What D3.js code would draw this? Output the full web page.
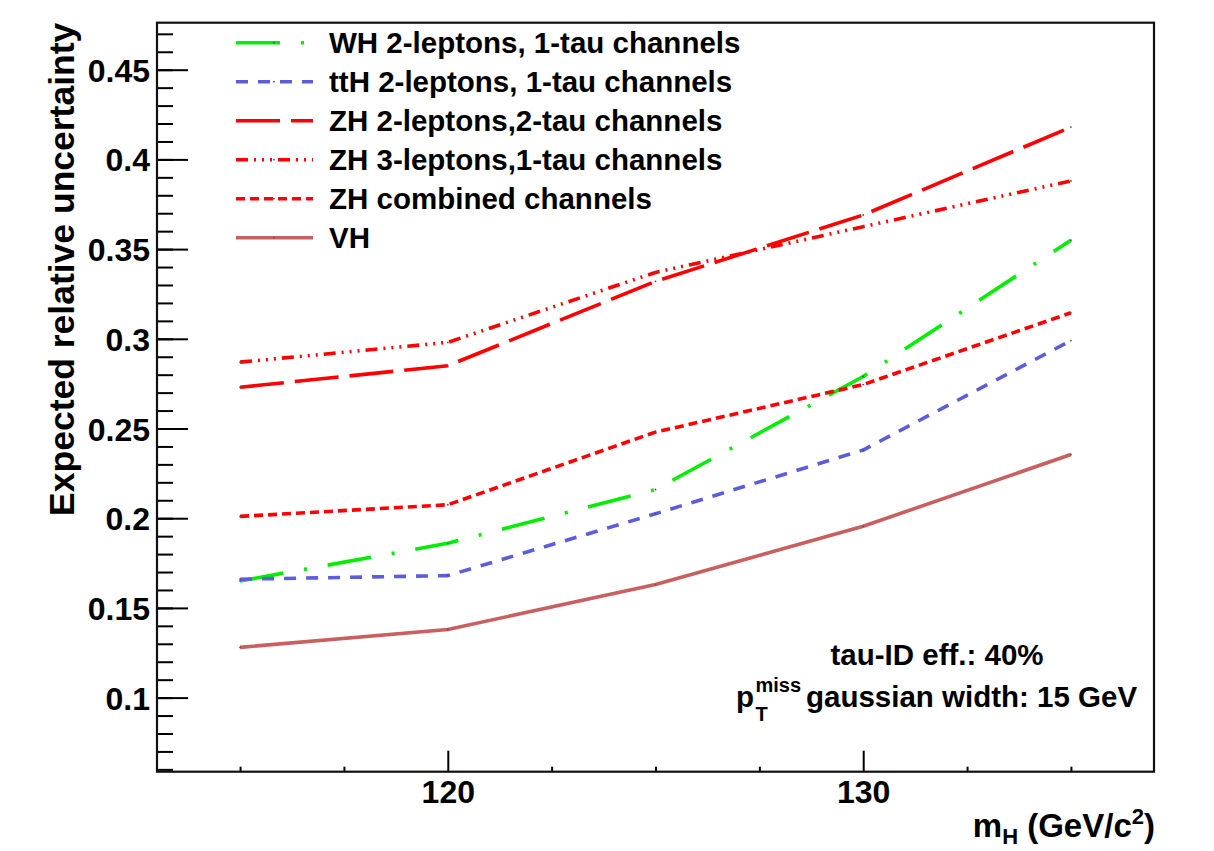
<!DOCTYPE html>
<html>
<head>
<meta charset="utf-8">
<script src="https://cdn.jsdelivr.net/npm/d3@7"></script>
<style>
  html, body { margin: 0; padding: 0; background: #fff; }
  svg { display: block; }
  text { font-family: "Liberation Sans", Arial, Helvetica, sans-serif; font-weight: bold; fill: #000; }
</style>
</head>
<body>
<svg id="chart" width="1214" height="851"></svg>
<script>
// ---- data ----
const masses = [115, 120, 125, 130, 135];
const whValues     = [0.165, 0.186, 0.216, 0.279, 0.355];
const tthValues    = [0.166, 0.168, 0.2025, 0.238, 0.299];
const zh2l2tValues = [0.273, 0.285, 0.332, 0.369, 0.418];
const zh3l1tValues = [0.287, 0.298, 0.337, 0.3625, 0.388];
const zhCombValues = [0.201, 0.2075, 0.248, 0.2745, 0.3145];
const vhValues     = [0.128, 0.138, 0.163, 0.1955, 0.2355];

const seriesNames = [
  "WH 2-leptons, 1-tau channels",
  "ttH 2-leptons, 1-tau channels",
  "ZH 2-leptons,2-tau channels",
  "ZH 3-leptons,1-tau channels",
  "ZH combined channels",
  "VH"
];
const yMajorTicks = [0.1, 0.15, 0.2, 0.25, 0.3, 0.35, 0.4, 0.45];
const yTickLabels = ["0.1", "0.15", "0.2", "0.25", "0.3", "0.35", "0.4", "0.45"];
const xMajorTicks = [120, 130];
const xMinorTicks = [115, 117.5, 122.5, 125, 127.5, 132.5, 135];
const xDomain = [113, 137];
const yDomain = [0.0587, 0.4762];

// ---- styles ----
const seriesValues = [whValues, tthValues, zh2l2tValues, zh3l1tValues, zhCombValues, vhValues];
const styles = [
  { color: "#00ee00", dash: "44,21,3,21" },
  { color: "#5c5cdc", dash: "12,10" },
  { color: "#ff0000", dash: "44,11" },
  { color: "#ff0000", dash: "12,6,2,6,2,6,2,6" },
  { color: "#ff0000", dash: "9,5" },
  { color: "#c86060", dash: null }
];

const svg = d3.select("#chart");
const L = 157, R = 1154, T = 22.7, B = 771.7;
const x = d3.scaleLinear().domain(xDomain).range([L, R]);
const y = d3.scaleLinear().domain(yDomain).range([B, T]);

// minor y ticks every 0.01
const yMinorTicks = d3.range(6, 48).map(d => d / 100).filter(v => v >= yDomain[0] && v <= yDomain[1]);

// y axis minor ticks
svg.append("g").attr("transform", `translate(${L},0)`)
  .call(d3.axisLeft(y).tickValues(yMinorTicks).tickSizeInner(-16).tickSizeOuter(0).tickFormat(""))
  .call(g => g.select(".domain").remove())
  .call(g => g.selectAll("line").attr("stroke", "#000").attr("stroke-width", 2));

// y axis major ticks
svg.append("g").attr("transform", `translate(${L},0)`)
  .call(d3.axisLeft(y).tickValues(yMajorTicks).tickSizeInner(-31).tickSizeOuter(0).tickPadding(7)
        .tickFormat((d, i) => yTickLabels[i]))
  .call(g => g.select(".domain").remove())
  .call(g => g.selectAll("line").attr("stroke", "#000").attr("stroke-width", 2))
  .call(g => g.selectAll("text").attr("font-size", 32).attr("font-family", "Liberation Sans, Arial, sans-serif")
        .attr("font-weight", "bold").attr("fill", "#000").attr("dy", "0.36em"));

// x axis minor ticks
svg.append("g").attr("transform", `translate(0,${B})`)
  .call(d3.axisBottom(x).tickValues(xMinorTicks).tickSizeInner(-5).tickSizeOuter(0).tickFormat(""))
  .call(g => g.select(".domain").remove())
  .call(g => g.selectAll("line").attr("stroke", "#000").attr("stroke-width", 2));

// x axis major ticks
svg.append("g").attr("transform", `translate(0,${B})`)
  .call(d3.axisBottom(x).tickValues(xMajorTicks).tickSizeInner(-21).tickSizeOuter(0).tickPadding(9)
        .tickFormat(d3.format("d")))
  .call(g => g.select(".domain").remove())
  .call(g => g.selectAll("line").attr("stroke", "#000").attr("stroke-width", 2))
  .call(g => g.selectAll("text").attr("font-size", 32).attr("font-family", "Liberation Sans, Arial, sans-serif")
        .attr("font-weight", "bold").attr("fill", "#000").attr("dy", "0.71em"));

// frame
svg.append("rect").attr("x", L).attr("y", T).attr("width", R - L).attr("height", B - T)
  .attr("fill", "none").attr("stroke", "#111").attr("stroke-width", 2.2);

// series lines
const line = d3.line().x(d => x(d[0])).y(d => y(d[1]));
seriesValues.forEach((vals, i) => {
  const pts = masses.map((m, j) => [m, vals[j]]);
  svg.append("path").datum(pts).attr("d", line)
    .attr("fill", "none").attr("stroke", styles[i].color).attr("stroke-width", 3.6)
    .attr("stroke-dasharray", styles[i].dash).attr("stroke-linejoin", "round");
  svg.append("g").selectAll("circle").data(pts).join("circle")
    .attr("cx", d => x(d[0])).attr("cy", d => y(d[1])).attr("r", 0.9).attr("fill", "#555");
});

// legend
const legX0 = 236, legX1 = 313, legTextX = 329, legY0 = 42.7, legDy = 39;
const leg = svg.append("g");
seriesNames.forEach((name, i) => {
  const yy = legY0 + i * legDy;
  leg.append("line").attr("x1", legX0).attr("x2", legX1).attr("y1", yy).attr("y2", yy)
    .attr("stroke", styles[i].color).attr("stroke-width", 3.6).attr("stroke-dasharray", styles[i].dash);
  leg.append("circle").attr("cx", 274).attr("cy", yy).attr("r", 0.9).attr("fill", "#555");
  leg.append("text").attr("x", legTextX).attr("y", yy + 10.5).attr("font-size", 29.5).text(name);
});

// annotations
svg.append("text").attr("x", 937).attr("y", 665).attr("text-anchor", "middle").attr("font-size", 29.5)
  .text("tau-ID eff.: 40%");
const ann2 = svg.append("g");
ann2.append("text").attr("x", 736).attr("y", 707).attr("font-size", 29.5).text("p");
ann2.append("text").attr("x", 755.5).attr("y", 692).attr("font-size", 20).text("miss");
ann2.append("text").attr("x", 755.5).attr("y", 721).attr("font-size", 20).text("T");
ann2.append("text").attr("x", 806).attr("y", 707).attr("font-size", 29.5).text("gaussian width: 15 GeV");

// x axis title
const xt = svg.append("text").attr("x", R + 1).attr("y", 837).attr("text-anchor", "end").attr("font-size", 33);
xt.append("tspan").text("m");
xt.append("tspan").attr("font-size", 22).attr("dy", 7).text("H");
xt.append("tspan").attr("dy", -7).text(" (GeV/c");
xt.append("tspan").attr("font-size", 22).attr("dy", -13).text("2");
xt.append("tspan").attr("dy", 13).text(")");

// y axis title
svg.append("text").attr("transform", `translate(74,${T}) rotate(-90)`)
  .attr("text-anchor", "end").attr("font-size", 35.5).text("Expected relative uncertainty");
</script>
</body>
</html>
